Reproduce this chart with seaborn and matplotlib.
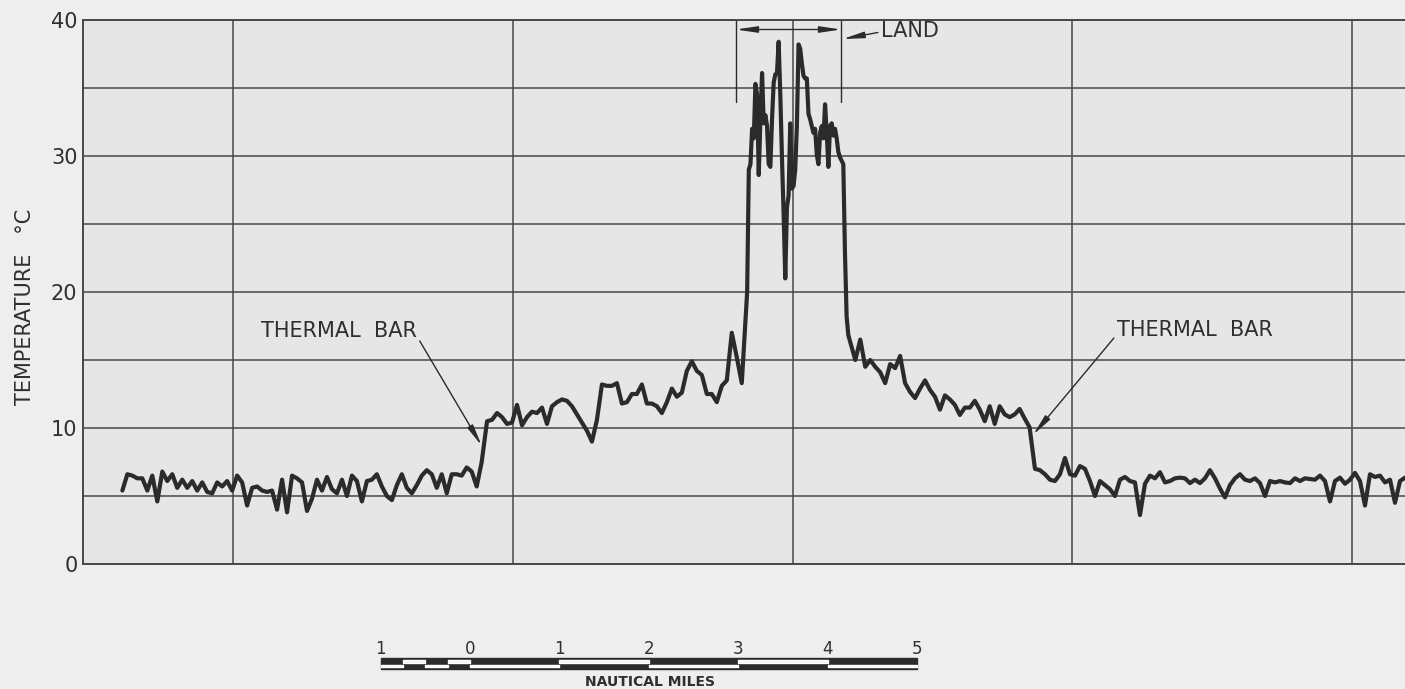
import numpy as np
import pandas as pd
import matplotlib
matplotlib.use("Agg")
import matplotlib.pyplot as plt
from matplotlib.patches import Rectangle
import seaborn as sns

# === Temperature trace (deg C) ===
temp_lake_west = [5.4, 6.6, 6.5, 6.3, 6.3, 5.4, 6.5, 4.6, 6.8, 6.1,
                  6.6, 5.6, 6.2, 5.6, 6.1, 5.4, 6.0, 5.3, 5.2, 6.0,
                  5.7, 6.1, 5.4, 6.5, 6.0, 4.3, 5.6, 5.7, 5.4, 5.3,
                  5.4, 4.0, 6.2, 3.8, 6.5, 6.3, 6.0, 3.9, 4.8, 6.2,
                  5.4, 6.4, 5.5, 5.2, 6.2, 5.0, 6.5, 6.1, 4.6, 6.1,
                  6.2, 6.6, 5.7, 5.0, 4.7, 5.8, 6.6, 5.6, 5.2, 5.8,
                  6.5, 6.9, 6.6, 5.6, 6.6, 5.2, 6.6, 6.6, 6.5, 7.1,
                  6.8, 5.7, 7.5]
temp_inshore_west = [10.5, 10.6, 11.1, 10.8, 10.3, 10.4, 11.7, 10.2, 10.8, 11.2,
                     11.1, 11.5, 10.3, 11.6, 11.9, 12.1, 12.0, 11.6, 11.0, 10.4,
                     9.8, 9.0, 10.6, 13.2, 13.1, 13.1, 13.3, 11.8, 11.9, 12.5,
                     12.5, 13.2, 11.8, 11.8, 11.6, 11.1, 11.9, 12.9, 12.3, 12.6,
                     14.2, 14.9, 14.2, 13.9, 12.5, 12.5, 11.9, 13.1, 13.5, 17.0,
                     15.2, 13.3]
temp_land = [20.0, 29.0, 29.4, 32.0, 31.3, 35.3, 34.5, 28.6, 32.7, 36.1,
             32.4, 33.0, 32.2, 29.4, 29.2, 32.7, 35.4, 36.0, 36.1, 38.4,
             34.5, 29.9, 25.7, 21.0, 26.2, 27.1, 32.4, 27.6, 27.8, 29.0,
             32.2, 38.2, 37.9, 36.8, 35.9, 35.7, 35.7, 33.1, 32.7, 32.2,
             31.7, 32.0, 30.1, 29.4, 31.7, 32.2, 31.3, 33.8, 31.7, 29.2,
             32.2, 32.4, 31.5, 32.0, 31.3, 30.3, 29.9, 29.65, 29.4, 22.9,
             18.2, 16.85, 16.4]
temp_inshore_east = [15.0, 16.5, 14.5, 15.0, 14.5, 14.1, 13.3, 14.7, 14.4, 15.3,
                     13.3, 12.65, 12.2, 12.9, 13.5, 12.8, 12.3, 11.35, 12.4, 12.1,
                     11.7, 10.96, 11.5, 11.5, 12.0, 11.35, 10.5, 11.6, 10.3, 11.6,
                     11.0, 10.8, 11.0, 11.4, 10.7, 10.05]
temp_lake_east = [7.0, 6.9, 6.6, 6.2, 6.1, 6.6, 7.8, 6.6, 6.5, 7.2,
                  7.0, 6.1, 5.0, 6.1, 5.8, 5.5, 5.0, 6.2, 6.4, 6.1,
                  6.0, 3.6, 5.9, 6.5, 6.3, 6.75, 6.0, 6.1, 6.3, 6.35,
                  6.3, 5.95, 6.2, 5.95, 6.3, 6.9, 6.3, 5.55, 4.9, 5.8,
                  6.3, 6.6, 6.2, 6.1, 6.3, 5.95, 5.0, 6.1, 6.0, 6.1,
                  6.0, 5.95, 6.3, 6.1, 6.3, 6.25, 6.2, 6.5, 6.1, 4.6,
                  6.1, 6.35, 5.9, 6.2, 6.7, 6.1, 4.3, 6.6, 6.4, 6.5,
                  6.0, 6.2, 4.5, 6.1, 6.35]

# start / end of each section along the track (nautical miles)
section_nm = [(-3.89, 0.13), (0.19, 3.04), (3.10, 4.25), (4.31, 6.26), (6.32, 10.46)]

scale_labels = ["1", "0", "1", "2", "3", "4", "5"]
scale_nm = [-1, 0, 1, 2, 3, 4, 5]

# === Build one frame ===
sections = [temp_lake_west, temp_inshore_west, temp_land, temp_inshore_east, temp_lake_east]
frames = []
for (x0, x1), vals in zip(section_nm, sections):
    frames.append(pd.DataFrame({"nm": np.linspace(x0, x1, len(vals)), "temp": vals}))
df = pd.concat(frames, ignore_index=True)

INK = "#2b2b2b"
GRID = "#474747"
TXT = "#2f2f2f"

sns.set_theme(style="white", rc={"axes.facecolor": "#e6e6e6", "figure.facecolor": "#eeeeee"})
plt.rcParams["font.family"] = ["DejaVu Sans"]

fig = plt.figure(figsize=(14.05, 6.89), dpi=100)
ax = fig.add_axes([0.0591, 0.1814, 0.9409, 0.7896])

sns.lineplot(data=df, x="nm", y="temp", ax=ax, color=INK, linewidth=3.0,
             estimator=None, sort=False)

ax.set_xlim(-4.33, 10.46)
ax.set_ylim(0, 40)
ax.set_xticks([-2.651, 0.481, 3.613, 6.734, 9.866])
ax.set_xticklabels([])
yt = list(range(0, 41, 5))
ax.set_yticks(yt)
ax.set_yticklabels([str(v) if v % 10 == 0 else "" for v in yt])
ax.tick_params(length=0, labelsize=15, pad=4, labelcolor=TXT)
ax.grid(True, color=GRID, linewidth=1.1)
ax.set_axisbelow(True)
for s in ["left", "top", "bottom"]:
    ax.spines[s].set_color(GRID)
    ax.spines[s].set_linewidth(1.4)
ax.spines["right"].set_visible(False)
ax.set_xlabel("")
ax.set_ylabel("")

fig.text(25 / 1405, 1 - 307 / 689, "TEMPERATURE   °C", rotation=90,
         ha="center", va="center", fontsize=15, color=TXT)

# === Annotations ===
arrow = dict(arrowstyle="-|>,head_length=0.8,head_width=0.12", color=INK, lw=1.0,
             shrinkA=0, shrinkB=0, mutation_scale=16)

ax.annotate("THERMAL  BAR", xy=(0.13, 8.7), xytext=(-0.60, 17.1), ha="right", va="center",
            fontsize=15, color=TXT, arrowprops=dict(arrow, relpos=(1.0, 0.3)))
ax.annotate("THERMAL  BAR", xy=(6.30, 9.5), xytext=(7.24, 17.2), ha="left", va="center",
            fontsize=15, color=TXT, arrowprops=dict(arrow, relpos=(0.0, 0.3)))
ax.annotate("LAND", xy=(4.17, 38.6), xytext=(4.60, 39.2), ha="left", va="center",
            fontsize=15, color=TXT, arrowprops=dict(arrow, relpos=(0.0, 0.45)))

for xb in [2.975, 4.150]:
    ax.plot([xb, xb], [40, 34.0], color=INK, lw=1.0)
ax.annotate("", xy=(2.975, 39.3), xytext=(4.150, 39.3),
            arrowprops=dict(arrowstyle="<|-|>,head_length=0.8,head_width=0.12", color=INK,
                            lw=1.0, shrinkA=0, shrinkB=0, mutation_scale=16))

# === Scale bar (same horizontal scale as the trace) ===
sax = fig.add_axes([0.0591, 0.0, 0.9409, 59 / 689])
sax.set_xlim(ax.get_xlim())
sax.set_ylim(689, 630)
sax.axis("off")

# dark bar with a thin light stripe alternating low / high each division
low_stripe = [(-1, 0.25), (-0.5, 0.25), (0, 1), (2, 1), (4, 1)]
high_stripe = [(-0.75, 0.25), (-0.25, 0.25), (1, 1), (3, 1)]
sax.add_patch(Rectangle((-1, 658), 6, 11, facecolor=INK, edgecolor=INK, lw=1.0))
sax.broken_barh(low_stripe, (664.5, 2.5), facecolors="#f4f4f4")
sax.broken_barh(high_stripe, (660, 2.5), facecolors="#f4f4f4")

for pos, lab in zip(scale_nm, scale_labels):
    sax.text(pos, 649, lab, ha="center", va="center", fontsize=12, color=TXT)
sax.text(2.01, 682, "NAUTICAL MILES", ha="center", va="center", fontsize=10,
         fontweight="bold", color=TXT)

fig.savefig("out.png", dpi=100, facecolor=fig.get_facecolor())
